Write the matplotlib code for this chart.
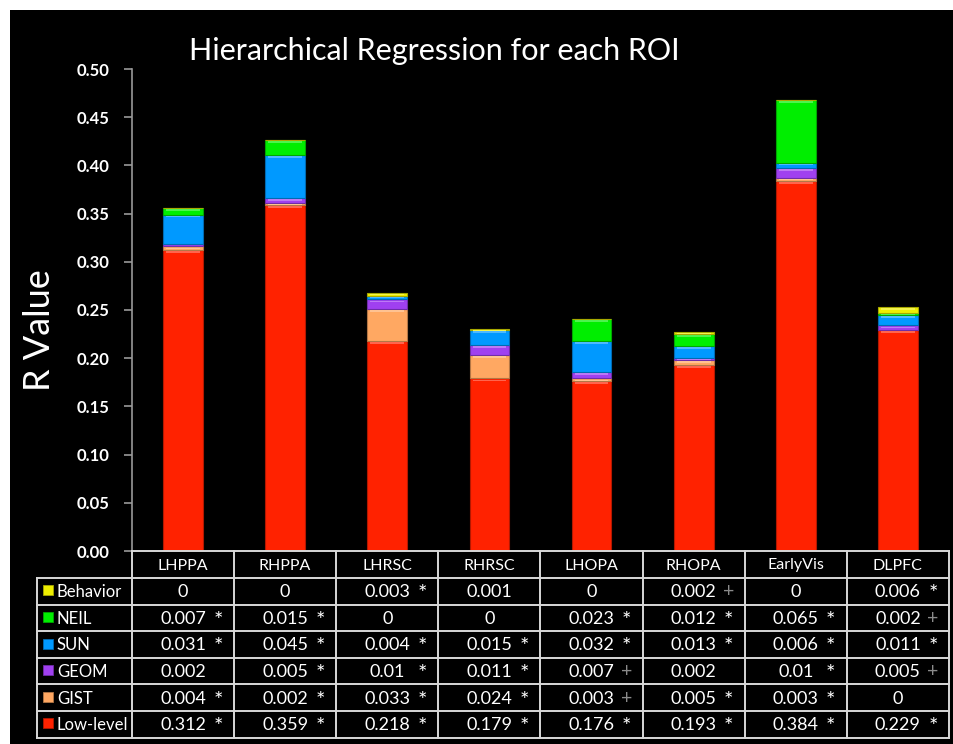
import matplotlib
matplotlib.use("Agg")
import matplotlib.pyplot as plt
from matplotlib.patches import Rectangle
from matplotlib.lines import Line2D
import numpy as np

plt.rcParams['font.family'] = ['Lato', 'DejaVu Sans']

# ---- data -------------------------------------------------------------
rois = ['LHPPA', 'RHPPA', 'LHRSC', 'RHRSC', 'LHOPA', 'RHOPA', 'EarlyVis', 'DLPFC']

low_level = [0.312, 0.359, 0.218, 0.179, 0.176, 0.193, 0.384, 0.229]
gist      = [0.004, 0.002, 0.033, 0.024, 0.003, 0.005, 0.003, 0]
geom      = [0.002, 0.005, 0.01, 0.011, 0.007, 0.002, 0.01, 0.005]
sun       = [0.031, 0.045, 0.004, 0.015, 0.032, 0.013, 0.006, 0.011]
neil      = [0.007, 0.015, 0, 0, 0.023, 0.012, 0.065, 0.002]
behavior  = [0, 0, 0.003, 0.001, 0, 0.002, 0, 0.006]

# significance: '*' significant, '+' marginal, '' none
sig_low_level = ['*', '*', '*', '*', '*', '*', '*', '*']
sig_gist      = ['*', '*', '*', '*', '+', '*', '*', '']
sig_geom      = ['', '*', '*', '*', '+', '', '*', '+']
sig_sun       = ['*', '*', '*', '*', '*', '*', '*', '*']
sig_neil      = ['*', '*', '', '', '*', '*', '*', '+']
sig_behavior  = ['', '', '*', '', '', '+', '', '*']

# stacking order (bottom -> top)
layers = [
    ('Low-level', low_level, sig_low_level, '#FF2200'),
    ('GIST',      gist,      sig_gist,      '#FFA862'),
    ('GEOM',      geom,      sig_geom,      '#A040F0'),
    ('SUN',       sun,       sig_sun,       '#0099FF'),
    ('NEIL',      neil,      sig_neil,      '#00EE00'),
    ('Behavior',  behavior,  sig_behavior,  '#EEEE00'),
]

yticks = [0.00, 0.05, 0.10, 0.15, 0.20, 0.25, 0.30, 0.35, 0.40, 0.45, 0.50]

# ---- figure -----------------------------------------------------------
W, H = 954, 744
fig = plt.figure(figsize=(W / 100, H / 100), dpi=100, facecolor='white')

# black slide background
fig.patches.append(Rectangle((10 / W, 0), (W - 10) / W, (H - 10) / H,
                             transform=fig.transFigure, facecolor='black',
                             edgecolor='none', zorder=-10))

# plot area in pixel units (from top-left)
ax_l, ax_r, ax_t, ax_b = 132, 949, 69, 551
ax = fig.add_axes([ax_l / W, (H - ax_b) / H, (ax_r - ax_l) / W, (ax_b - ax_t) / H])
ax.set_facecolor('none')

n = len(rois)
x = np.arange(n)
bottom = np.zeros(n)


def shade(c, f):
    rgb = np.array(matplotlib.colors.to_rgb(c))
    if f < 1:
        return tuple(rgb * f)
    return tuple(rgb + (1 - rgb) * (f - 1))


for name, vals, _, col in layers:
    v = np.array(vals, dtype=float)
    ax.bar(x, v, bottom=bottom, width=0.39, color=col,
           edgecolor=shade(col, 0.7), linewidth=0.8, zorder=3)
    # glossy highlight along the top of each segment
    hl = np.minimum(v * 0.35, 0.0018)
    ax.bar(x, hl, bottom=bottom + v - hl - 0.0012, width=0.33,
           color=shade(col, 1.3), linewidth=0, zorder=4)
    bottom += v

ax.set_xlim(-0.5, n - 0.5)
ax.set_ylim(0, 0.5)
ax.set_xticks([])
ax.set_yticks(yticks)
ax.set_yticklabels([f'{t:.2f}' for t in yticks], color='white',
                   fontsize=12, fontweight='bold')
ax.tick_params(axis='y', colors='#999999', length=6, width=1.2, pad=10,
               labelcolor='white')
for s in ['top', 'right', 'bottom']:
    ax.spines[s].set_visible(False)
ax.spines['left'].set_color('#999999')
ax.spines['left'].set_linewidth(1.2)

# title and axis label
fig.text(434 / W, 1 - 51 / H, 'Hierarchical Regression for each ROI',
         color='white', fontsize=22, ha='center', va='center')
fig.text(40 / W, 1 - 330 / H, 'R Value', color='white', fontsize=26,
         rotation=90, ha='center', va='center')

# ---- data table under the bars ----------------------------------------
tab = fig.add_axes([0, 0, 1, 1])
tab.set_xlim(0, W)
tab.set_ylim(H, 0)
tab.axis('off')

col_w = (ax_r - ax_l) / n
lab_l = 37
head_t, head_b = ax_b, 578
row_h = 26.6
rows = layers[::-1]  # Behavior on top
tab_bottom = head_b + row_h * len(rows)
grid_c = '#D8D8D8'
lw = 1.4

# horizontal lines
tab.add_line(Line2D([ax_l, ax_r], [head_t, head_t], color=grid_c, lw=lw))
for k in range(len(rows) + 1):
    yy = head_b + k * row_h
    tab.add_line(Line2D([lab_l, ax_r], [yy, yy], color=grid_c, lw=lw))
# vertical lines
for j in range(n + 1):
    xx = ax_l + j * col_w
    tab.add_line(Line2D([xx, xx], [head_t, tab_bottom], color=grid_c, lw=lw))
tab.add_line(Line2D([lab_l, lab_l], [head_b, tab_bottom], color=grid_c, lw=lw))

# column headers
for j, roi in enumerate(rois):
    cx = ax_l + (j + 0.5) * col_w
    tab.text(cx, (head_t + head_b) / 2 + 1, roi, color='white', fontsize=11.5,
             ha='center', va='center')

# rows
for i, (name, vals, sigs, col) in enumerate(rows):
    cy = head_b + (i + 0.5) * row_h
    tab.add_patch(Rectangle((43, cy - 6), 10, 10, facecolor=col,
                            edgecolor=shade(col, 0.7), lw=0.6))
    tab.text(57, cy + 1, name, color='white', fontsize=12,
             ha='left', va='center')
    for j, (v, s) in enumerate(zip(vals, sigs)):
        cx = ax_l + (j + 0.5) * col_w
        tab.text(cx, cy + 1, f'{v:g}', color='white', fontsize=13,
                 ha='center', va='center')
        if s:
            tab.text(cx + 35, cy + (3 if s == '*' else 0.5), s,
                     color='white' if s == '*' else '#8A8A8A',
                     fontsize=16 if s == '*' else 14,
                     ha='center', va='center')

fig.savefig('out.png', dpi=100, facecolor='white')
